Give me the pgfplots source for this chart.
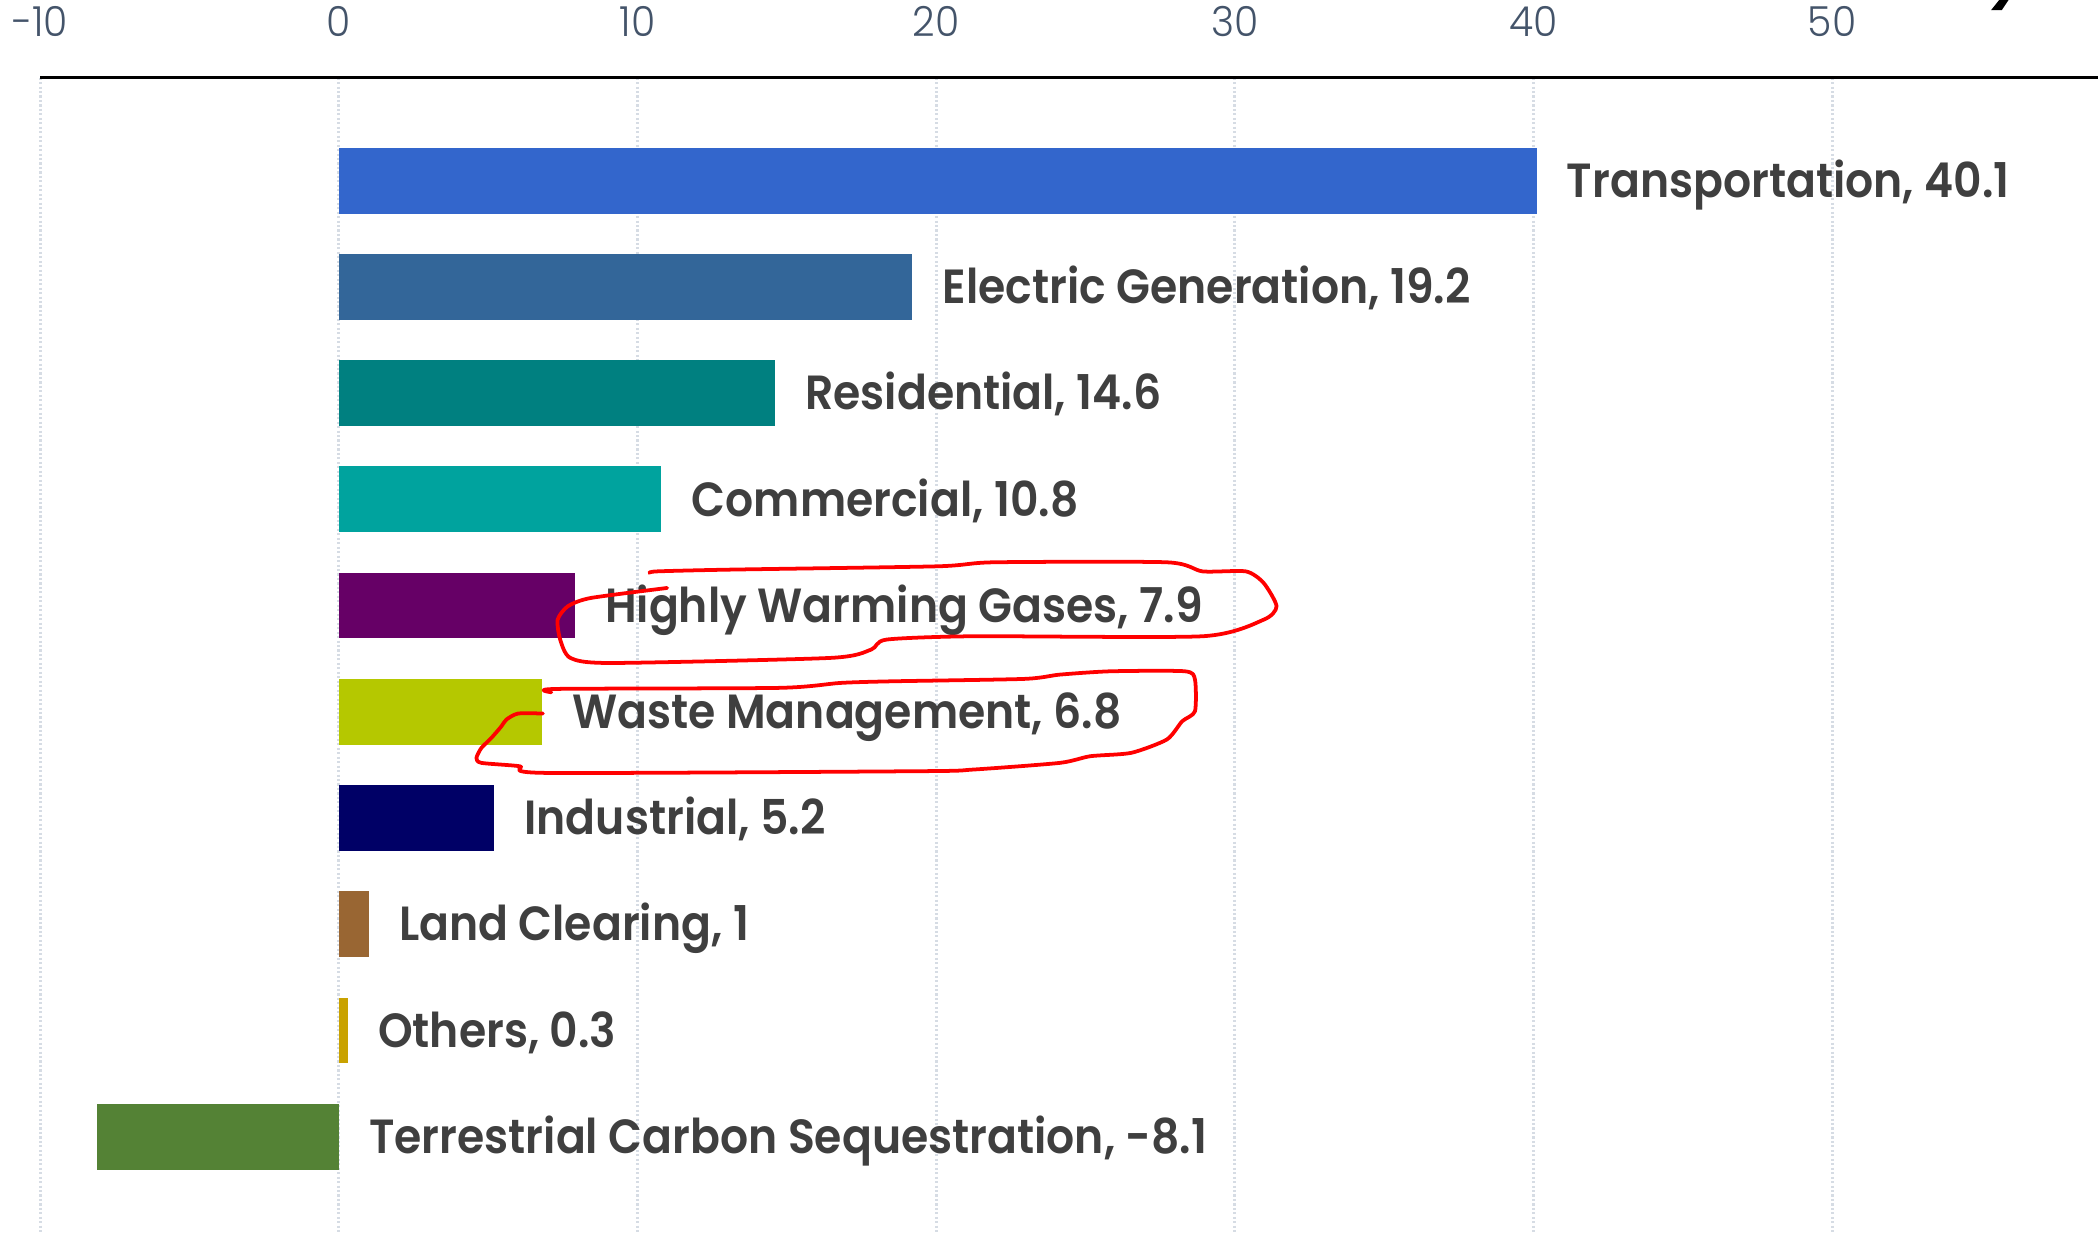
\documentclass[border=0pt]{standalone}
\usepackage{pgfplots}
\pgfplotsset{compat=1.18}
\usepackage{pgfplotstable}
\usepackage{fontspec}
\setmainfont{Poppins}
\newfontfamily\lblfont{Poppins SemiBold}[FakeStretch=0.92]
\newfontfamily\tickfont{Poppins Light}[FakeStretch=0.95]
\definecolor{cTrans}{HTML}{3366CC}
\definecolor{cElec}{HTML}{336699}
\definecolor{cRes}{HTML}{008080}
\definecolor{cCom}{HTML}{00A39E}
\definecolor{cHWG}{HTML}{660066}
\definecolor{cWaste}{HTML}{B5C800}
\definecolor{cInd}{HTML}{000066}
\definecolor{cLand}{HTML}{996633}
\definecolor{cOth}{HTML}{C9A200}
\definecolor{cTerr}{HTML}{548235}
\definecolor{lbl}{HTML}{3F3F3F}
\definecolor{tick}{HTML}{44546A}
\definecolor{gridc}{HTML}{D6DCE4}
\pgfplotstableread[col sep=semicolon]{
idx;val;lx;label
0;40.1;40.1;Transportation, 40.1
1;19.2;19.2;Electric Generation, 19.2
2;14.6;14.6;Residential, 14.6
3;10.8;10.8;Commercial, 10.8
4;7.9;7.9;Highly Warming Gases, 7.9
5;6.8;6.8;Waste Management, 6.8
6;5.2;5.2;Industrial, 5.2
7;1;1;Land Clearing, 1
8;0.3;0.3;Others, 0.3
9;-8.1;0;Terrestrial Carbon Sequestration, -8.1
}\tbl
\begin{document}
\begin{tikzpicture}
\path[use as bounding box] (0,0) rectangle (15.68cm,9.21cm);
\begin{axis}[
  at={(0.30cm,8.63cm)}, anchor=north west,
  scale only axis,
  width=15.38cm, height=8.63cm,
  xmin=-10, xmax=58.9,
  ymin=-0.97, ymax=9.90,
  y dir=reverse,
  axis x line*=top,
  axis y line=none,
  axis line style={black, line width=0.75pt},
  xtick={-10,0,10,20,30,40,50},
  major tick length=0pt,
  /pgf/number format/assume math mode=true,
  xticklabel style={anchor=base, yshift=0.31cm, font=\tickfont\fontsize{8.8}{10}\selectfont, text=tick},
  ytick=\empty,
  xmajorgrids,
  major grid style={draw=gridc, line width=0.65pt, dash pattern=on 0.45pt off 0.5pt},
  xbar, bar shift=0pt, bar width=0.62,
  clip=false,
]
\addplot[fill=cTrans, draw=none] coordinates {(40.1,0)};
\addplot[fill=cElec, draw=none] coordinates {(19.2,1)};
\addplot[fill=cRes, draw=none] coordinates {(14.6,2)};
\addplot[fill=cCom, draw=none] coordinates {(10.8,3)};
\addplot[fill=cHWG, draw=none] coordinates {(7.9,4)};
\addplot[fill=cWaste, draw=none] coordinates {(6.8,5)};
\addplot[fill=cInd, draw=none] coordinates {(5.2,6)};
\addplot[fill=cLand, draw=none] coordinates {(1,7)};
\addplot[fill=cOth, draw=none] coordinates {(0.3,8)};
\addplot[fill=cTerr, draw=none] coordinates {(-8.1,9)};
\addplot[xbar=false, draw=none, mark=none, only marks,
  nodes near coords, point meta=explicit symbolic,
  nodes near coords style={anchor=base west, inner sep=0pt, xshift=0.22cm, yshift=-0.125cm,
    font=\lblfont\fontsize{10.2}{12}\selectfont, text=lbl}]
  table[x=lx, y=idx, meta=label] {\tbl};
\end{axis}
\begin{scope}[shift={(0,9.21cm)}, x=0.01cm, y=-0.01cm]
\draw[red, line width=0.8pt, line join=round, line cap=round] plot[smooth, tension=0.4] coordinates {
 (485.6,428.5) (491.3,427.3) (544.7,426) (701,423.5) (743,420.5) (872.6,420.5) (899.3,427.3) (931.7,427.3)
 (945,436) (954.6,453.4) (945,463.4) (899.3,475.8) (727.7,475.8) (662.9,478.3) (651.4,485.8) (621,492)
 (457,495.8) (426.5,492) (418.9,478.3) (417,463.4) (424.6,453.4) (441.7,447.2) (498.9,439.7)};
\draw[red, line width=0.8pt, line join=round, line cap=round] plot[smooth, tension=0.4] coordinates {
 (412.3,517.7) (416,515.2) (582.8,514.4) (628.6,510.7) (666.7,509.5) (765.8,507.7) (792.5,504.5) (830.7,502)
 (886,502) (893.6,508.2) (893.6,531.9) (884,539.4) (872.6,553) (845.9,563) (815.4,565.5) (792.5,570.5)
 (727.7,575.5) (689.6,576.7) (408.6,578) (388.6,573) (360,570.5) (356.3,566.8) (360,559.3) (367.5,551.8)
 (375,543.1) (378.7,538.1) (387.4,533.6) (406,533.6)};
\fill[black] (1489,7.5) -- (1497,7.5) -- (1502,0) -- (1495,0) -- cycle;
\end{scope}
\end{tikzpicture}
\end{document}
